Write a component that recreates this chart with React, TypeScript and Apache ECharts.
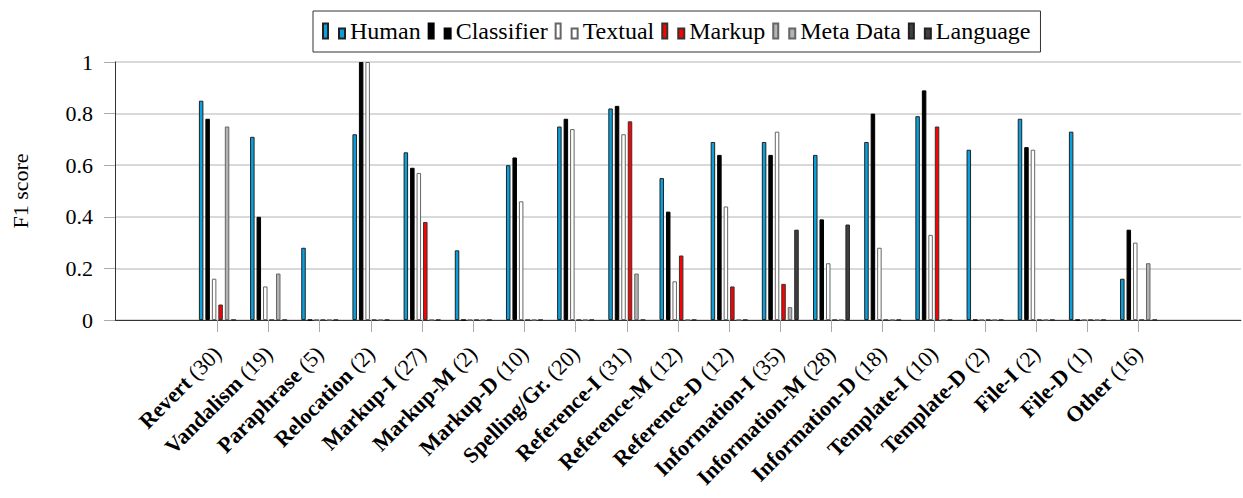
import React, { useEffect, useRef } from 'react';
import * as echarts from 'echarts';

const categories = [
  'Revert (30)', 'Vandalism (19)', 'Paraphrase (5)', 'Relocation (2)', 'Markup-I (27)',
  'Markup-M (2)', 'Markup-D (10)', 'Spelling/Gr. (20)', 'Reference-I (31)', 'Reference-M (12)',
  'Reference-D (12)', 'Information-I (35)', 'Information-M (28)', 'Information-D (18)',
  'Template-I (10)', 'Template-D (2)', 'File-I (2)', 'File-D (1)', 'Other (16)',
];
const human = [0.85, 0.71, 0.28, 0.72, 0.65, 0.27, 0.60, 0.75, 0.82, 0.55, 0.69, 0.69, 0.64, 0.69, 0.79, 0.66, 0.78, 0.73, 0.16];
const classifier = [0.78, 0.40, 0, 1.0, 0.59, 0, 0.63, 0.78, 0.83, 0.42, 0.64, 0.64, 0.39, 0.80, 0.89, 0, 0.67, 0, 0.35];
const textual = [0.16, 0.13, 0, 1.0, 0.57, 0, 0.46, 0.74, 0.72, 0.15, 0.44, 0.73, 0.22, 0.28, 0.33, 0, 0.66, 0, 0.30];
const markup = [0.06, 0, 0, 0, 0.38, 0, 0, 0, 0.77, 0.25, 0.13, 0.14, 0, 0, 0.75, 0, 0, 0, 0];
const metaData = [0.75, 0.18, 0, 0, 0, 0, 0, 0, 0.18, 0, 0, 0.05, 0, 0, 0, 0, 0, 0, 0.22];
const language = [0, 0, 0, 0, 0, 0, 0, 0, 0, 0, 0, 0.35, 0.37, 0, 0, 0, 0, 0, 0];
const yTicks = [0, 0.2, 0.4, 0.6, 0.8, 1];

const FONT = "'Liberation Serif', 'Times New Roman', 'DejaVu Serif', serif";

export default function App() {
  const ref = useRef<HTMLDivElement>(null);
  useEffect(() => {
    const chart = echarts.init(ref.current!, null, { renderer: 'svg' });
    const pad = (a: number[]) => [null, null, ...a, null, null];
    const axisData = ['', '', ...categories, '', ''];
    const icon = 'path://M0,0H5V15H0Z M16,5H22V15H16Z';
    const mk = (name: string, data: number[], color: string, border: string) => ({
      name,
      type: 'bar',
      data: pad(data),
      barWidth: 4.5,
      barGap: '44%',
      itemStyle: { color, borderColor: border, borderWidth: 1 },
    });
    chart.setOption({
      animation: false,
      textStyle: { fontFamily: FONT },
      legend: {
        left: 313,
        top: 11,
        padding: [8, 10, 9, 9],
        borderColor: '#333',
        borderWidth: 1,
        itemWidth: 22,
        itemHeight: 15,
        itemGap: 7,
        icon,
        selectedMode: false,
        textStyle: { fontSize: 24, color: '#000', fontFamily: FONT },
      },
      grid: { left: 115, top: 62, height: 258, width: 1149 },
      xAxis: {
        type: 'category',
        data: axisData,
        boundaryGap: false,
        axisLine: { lineStyle: { color: '#333', width: 1 } },
        axisTick: {
          show: true,
          interval: (_i: number, v: string) => v !== '',
          length: 12,
          lineStyle: { color: '#aaa' },
        },
        splitLine: { show: false },
        axisLabel: {
          interval: 0,
          rotate: 45,
          margin: 30,
          color: '#000',
          fontFamily: FONT,
          formatter: (v: string) => {
            if (!v) return '';
            const k = v.lastIndexOf(' (');
            return `{b|${v.slice(0, k)}}{r|${v.slice(k)}}`;
          },
          rich: {
            b: { fontWeight: 'bold', fontSize: 22, color: '#000', fontFamily: FONT },
            r: { fontSize: 22, color: '#000', fontFamily: FONT },
          },
        },
      },
      yAxis: {
        type: 'value',
        min: yTicks[0],
        max: yTicks[yTicks.length - 1],
        interval: 0.2,
        name: 'F1 score',
        nameLocation: 'middle',
        nameGap: 84,
        nameTextStyle: { fontSize: 22, color: '#000', fontFamily: FONT },
        axisLine: { show: true, lineStyle: { color: '#333', width: 1 } },
        axisTick: { show: true, length: 11, lineStyle: { color: '#aaa' } },
        axisLabel: { fontSize: 22, color: '#000', margin: 22, fontFamily: FONT },
        splitLine: { show: true, lineStyle: { color: '#ccc', width: 1.5 } },
      },
      series: [
        mk('Human', human, '#0aa0dc', '#222'),
        mk('Classifier', classifier, '#000', '#000'),
        mk('Textual', textual, '#fff', '#666'),
        mk('Markup', markup, '#ff0000', '#333'),
        mk('Meta Data', metaData, '#b3b3b3', '#666'),
        mk('Language', language, '#404040', '#222'),
      ],
    });
    return () => chart.dispose();
  }, []);
  return <div ref={ref} style={{ position: 'absolute', left: 0, top: 0, width: 1243, height: 498 }} />;
}
